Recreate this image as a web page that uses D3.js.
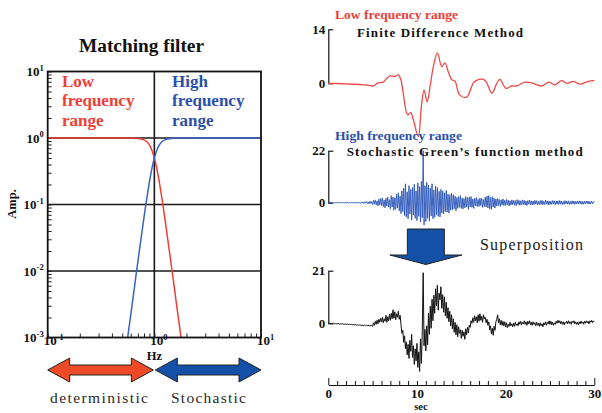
<!DOCTYPE html>
<html><head><meta charset="utf-8">
<script src="https://cdn.jsdelivr.net/npm/d3@7"></script>
<style>
html,body{margin:0;padding:0;background:#fff;}
svg{display:block;}
svg text{font-family:'Liberation Serif','Times New Roman',Times,'DejaVu Serif',serif;}
</style></head>
<body><svg id="c" width="602" height="413"></svg>
<script>
// ---------- Left panel data: matching filter ----------
const lowPassFreq = [0.1,0.3,0.6,0.7,0.8,0.85,0.9,0.95,1.0,1.05,1.1,1.15,1.2,1.3,1.4,1.5,1.6,1.7,1.78];
const lowPassAmp  = [1,1,0.998,0.986,0.936,0.876,0.78,0.649,0.5,0.358,0.242,0.157,0.101,0.041,0.0173,0.0077,0.0035,0.0017,0.001];
const highPassFreq = [0.562,0.588,0.625,0.667,0.714,0.769,0.833,0.87,0.909,0.952,1.0,1.053,1.111,1.176,1.25,1.429,1.667,3,10];
const highPassAmp  = [0.001,0.0017,0.0035,0.0077,0.0173,0.041,0.101,0.157,0.242,0.358,0.5,0.649,0.78,0.876,0.936,0.986,0.998,1,1];
const ampExponents = [1,0,-1,-2,-3];
const freqExponents = [-1,0,1];
const gridAmps = [1,0.1,0.01];
const gridFreqs = [1];

// ---------- Right panel data: waveforms ----------
const lowT = [0,1,2,3,4,4.8,5.1,5.6,6.2,6.6,7.0,7.5,7.9,8.2,8.45,8.95,9.3,9.6,10.15,10.5,10.8,11.15,11.5,11.85,12.3,12.8,13.15,13.5,13.9,14.3,14.8,15.6,16.4,17.0,17.5,17.85,18.45,19.0,19.35,20.05,20.65,21.2,22.2,23.1,24.05,24.9,25.55,26.3,26.9,27.6,28.4,29.3,30];
const lowV = [0,-0.05,-0.15,-0.25,-0.4,-0.6,-0.7,0.1,0.3,1.3,1.9,1.8,2.2,0.8,-2.6,-8.2,-7.6,-9.5,-13.8,-6,-1.7,-4.8,-0.5,4.3,7.9,4.3,5.3,3.2,1.0,0.5,-3.0,-3.6,0.2,1.0,1.0,0.2,-2.6,0.0,1.0,-1.3,-0.7,-0.7,0.3,0.0,-0.7,0.3,-0.4,0.7,0.0,0.5,-0.2,0.5,0.7];
const sampleStep = 0.1; // sec
const highV = [
 0,0.1,-0.1,0.1,0,-0.1,0.1,0,-0.1,0.1,
 0,-0.1,0.1,-0.1,0.1,0,-0.1,0.1,-0.1,0,
 0.1,-0.1,0.2,-0.1,0.1,-0.2,0.1,0,-0.1,0.2,
 -0.2,0.2,-0.1,0.3,-0.2,0.1,-0.3,0.2,-0.2,0.3,
 -0.3,0.4,-0.2,0.5,-0.4,0.3,-0.5,0.6,-0.3,0.5,
 -0.8,1.0,-0.6,1.2,-0.9,0.7,-1.3,1.5,-1.0,1.8,
 -1.2,2.0,-1.6,1.1,-2.2,1.9,-1.4,2.4,-1.8,1.3,
 -2.6,3.0,-1.9,2.4,-3.2,2.1,-2.8,3.6,-2.2,4.2,
 -3.4,2.8,-4.6,5.0,-3.8,6.2,-5.4,8.0,-6.0,4.6,
 -6.8,7.2,-4.8,5.6,-7.4,6.4,-5.2,7.8,-6.6,5.0,
 -7.6,8.4,-5.8,6.8,-8.2,9.0,-6.4,22.0,-9.4,7.2,
 -8.0,8.6,-6.6,7.4,-7.8,6.2,-5.6,8.0,-6.8,5.4,
 -6.2,7.0,-5.0,6.4,-5.8,4.8,-6.0,5.6,-4.4,5.0,
 -4.8,4.2,-3.8,5.2,-4.0,3.6,-4.4,3.4,-3.2,4.0,
 -3.0,3.4,-2.6,2.8,-3.4,2.2,-2.4,2.6,-2.0,3.0,
 -2.4,2.0,-2.6,1.8,-2.2,2.6,-1.8,2.2,-2.8,2.4,
 -1.8,2.6,-2.0,1.6,-2.4,1.8,-1.4,2.2,-1.6,1.4,
 -1.6,2.0,-1.2,1.8,-2.0,1.4,-1.6,2.4,-1.8,2.8,
 -2.2,3.0,-2.6,2.2,-2.8,2.6,-1.8,2.0,-2.2,1.6,
 -1.4,1.8,-1.2,1.4,-1.6,1.2,-1.0,1.6,-1.2,1.0,
 -1.2,1.4,-0.9,1.1,-1.3,0.8,-1.0,1.2,-0.8,1.0,
 -1.1,0.9,-1.2,1.3,-0.7,1.0,-1.1,0.8,-0.9,1.2,
 -0.8,1.0,-1.0,0.7,-1.2,0.9,-0.6,1.1,-0.9,0.8,
 -1.0,0.7,-0.8,1.0,-0.6,0.9,-1.0,0.6,-0.8,0.9,
 -0.7,1.0,-0.9,0.6,-0.8,1.1,-0.6,0.8,-0.9,0.7,
 -0.8,0.6,-0.7,0.9,-0.5,0.8,-0.9,0.7,-0.6,0.8,
 -0.7,0.9,-0.6,0.7,-0.8,0.5,-0.7,0.9,-0.5,0.7,
 -0.6,0.8,-0.7,0.5,-0.6,0.8,-0.5,0.7,-0.7,0.6,
 -0.5,0.7,-0.6,0.8,-0.4,0.6,-0.7,0.5,-0.6,0.7,
 -0.5,0.6,-0.4,0.7,-0.6,0.5,-0.4,0.6,-0.5,0.4,
 0.2];
const superV = [
 0,0,-0.1,0,-0.1,-0.1,0,-0.2,-0.1,-0.2,
 -0.2,-0.1,-0.2,-0.3,-0.2,-0.3,-0.2,-0.3,-0.4,-0.3,
 -0.4,-0.3,-0.4,-0.5,-0.4,-0.5,-0.4,-0.6,-0.5,-0.6,
 -0.6,-0.5,-0.7,-0.6,-0.8,-0.6,-0.7,-0.9,-0.7,-0.8,
 -0.9,-0.7,-1.0,-0.8,-1.0,-0.7,-1.1,-0.8,-1.0,-0.9,
 -1.2,0.2,-0.8,0.8,-0.4,1.2,-0.2,1.6,0.4,2.0,
 0.6,2.4,0.2,1.8,0.8,3.2,0.4,2.6,1.0,3.6,
 1.2,4.0,1.8,5.4,2.0,4.6,1.4,3.8,2.4,4.8,
 1.6,3.2,-0.6,-4.0,-2.8,-7.6,-5.0,-10.2,-7.4,-12.6,
 -8.4,-14.0,-6.8,-11.2,-4.4,-13.6,-9.0,-16.4,-10.2,-15.0,
 -8.0,-17.6,-11.4,-19.2,-6.2,-16.0,-3.0,20.2,-9.0,-2.4,
 -11.0,-1.0,-8.6,4.0,-4.4,6.8,-2.0,9.6,1.0,11.2,
 4.0,13.8,7.0,15.2,5.2,12.0,9.4,14.6,6.0,11.4,
 4.4,10.6,3.0,8.4,2.0,6.2,0.6,4.8,-1.0,3.4,
 -2.2,1.8,-3.6,0.4,-4.6,-0.6,-5.4,-1.4,-4.0,-2.6,
 -6.0,-2.8,-5.2,-3.4,-6.4,-2.2,-4.6,-1.6,-3.8,-0.8,
 -1.6,1.0,0.0,2.2,0.4,3.0,1.0,2.6,0.2,3.4,
 0.8,3.8,1.2,2.8,0.4,3.4,1.8,2.4,0.2,1.6,
 -0.8,0.6,-2.6,-1.0,-4.2,-2.0,-4.8,-1.2,-2.8,0.6,
 1.6,3.4,0.2,1.8,-0.6,1.2,-0.8,0.8,-1.0,0.6,
 -1.4,0.2,-1.8,-0.4,-1.2,0.4,-1.0,-0.2,-1.4,0.0,
 -1.2,0.4,-0.8,-0.2,-1.0,0.6,-0.4,0.8,-0.6,0.4,
 -0.2,1.0,-0.4,0.6,-0.8,0.8,-0.2,1.0,-0.6,0.4,
 -0.8,0.6,-0.4,0.2,-1.0,0.4,-0.8,0.0,-1.2,0.2,
 -1.0,-0.2,-1.4,0.2,-0.6,0.6,-0.8,0.4,-0.2,1.0,
 -0.4,0.8,-0.6,0.4,-0.8,0.2,-0.4,0.8,0.0,1.2,
 0.2,1.0,-0.2,0.8,-0.4,0.6,-0.6,0.4,0.0,0.8,
 -0.2,1.0,0.0,0.6,-0.4,0.8,0.2,1.0,-0.2,0.6,
 -0.4,0.4,-0.6,0.6,-0.2,0.8,0.0,0.6,-0.4,0.8,
 0.0,1.0,0.2,0.8,-0.2,1.0,0.4,1.2,0.2,0.9,
 0.8];
const traceTops = [14,22,21];
const timeTicks = d3.range(0,31);

// ---------- drawing ----------
const FONT = "'Liberation Serif','Times New Roman',Times,'DejaVu Serif',serif";
const svg = d3.select("#c");
const RED = "#ee3e36", BLUE = "#2c50aa";
function txt(g){ return g.append("text").attr("font-family",FONT); }

// Left panel
const fx = d3.scaleLog().domain([0.1,10]).range([47.7,261]);
const fy = d3.scaleLog().domain([0.001,10]).range([337.5,71.5]);
const L = svg.append("g");

txt(L).attr("x",79).attr("y",51.7)
 .attr("font-size",18).attr("font-weight","bold").attr("fill","#111")
 .attr("textLength",125).attr("lengthAdjust","spacingAndGlyphs").text("Matching filter");

// grid lines
L.selectAll("line.gh").data(gridAmps).join("line").attr("class","gh")
 .attr("x1",fx(0.1)).attr("x2",fx(10)).attr("y1",d=>fy(d)).attr("y2",d=>fy(d))
 .attr("stroke","#1a1a1a").attr("stroke-width",1.6);
L.selectAll("line.gv").data(gridFreqs).join("line").attr("class","gv")
 .attr("y1",fy(10)).attr("y2",fy(0.001)).attr("x1",d=>fx(d)).attr("x2",d=>fx(d))
 .attr("stroke","#1a1a1a").attr("stroke-width",1.6);

// ticks
const ay = L.append("g").attr("transform",`translate(${fx(0.1)},0)`)
 .call(d3.axisLeft(fy).tickValues(fy.ticks()).tickSize(-4).tickSizeOuter(0).tickFormat(""));
ay.select(".domain").remove();
ay.selectAll("line").attr("stroke","#222").attr("stroke-width",1);
const ax = L.append("g").attr("transform",`translate(0,${fy(0.001)})`)
 .call(d3.axisBottom(fx).tickValues(fx.ticks()).tickSize(-4).tickSizeOuter(0).tickFormat(""));
ax.select(".domain").remove();
ax.selectAll("line").attr("stroke","#222").attr("stroke-width",1);

// curves
const fline = d3.line().x(d=>fx(d[0])).y(d=>fy(d[1])).curve(d3.curveMonotoneX);
L.append("path").datum(lowPassFreq.map((f,i)=>[f,lowPassAmp[i]]))
 .attr("d",fline).attr("fill","none").attr("stroke",RED).attr("stroke-width",1.5);
L.append("path").datum(highPassFreq.map((f,i)=>[f,highPassAmp[i]]))
 .attr("d",fline).attr("fill","none").attr("stroke","#3a62c0").attr("stroke-width",1.5);

// frame
L.append("rect").attr("x",fx(0.1)).attr("y",fy(10))
 .attr("width",fx(10)-fx(0.1)).attr("height",fy(0.001)-fy(10))
 .attr("fill","none").attr("stroke","#111").attr("stroke-width",1.8);

// tick labels with superscripts
function sup(sel, e){
  sel.append("tspan").attr("font-size",13).text("10");
  sel.append("tspan").attr("font-size",8.5).attr("dy",-5.5).text(e);
}
L.selectAll("text.yl").data(ampExponents).join("text").attr("class","yl").attr("font-family",FONT)
 .attr("x",fx(0.1)-4).attr("y",d=>fy(Math.pow(10,d))+4.5)
 .attr("text-anchor","end").attr("font-size",13).attr("font-weight","bold").attr("fill","#111")
 .each(function(d){ sup(d3.select(this), d); });
L.selectAll("text.xl").data(freqExponents).join("text").attr("class","xl").attr("font-family",FONT)
 .attr("x",d=>fx(Math.pow(10,d))-4).attr("y",fy(0.001)+7.5)
 .attr("font-size",13).attr("font-weight","bold").attr("fill","#111")
 .each(function(d){ sup(d3.select(this), d); });

txt(L).attr("transform","translate(16,204) rotate(-90)").attr("text-anchor","middle")
 .attr("font-size",12.5).attr("font-weight","bold").attr("fill","#111").text("Amp.");
txt(L).attr("x",fx(1)).attr("y",359.5).attr("text-anchor","middle")
 .attr("font-size",12.5).attr("font-weight","bold").attr("fill","#111").text("Hz");

// region labels
[["Low",86.7],["frequency",106],["range",125.5]].forEach(([t,y])=>{
  txt(L).attr("x",62).attr("y",y).attr("font-size",17).attr("font-weight","bold")
   .attr("fill",RED).text(t);
});
[["High",86.7],["frequency",106],["range",125.5]].forEach(([t,y])=>{
  txt(L).attr("x",172).attr("y",y).attr("font-size",17).attr("font-weight","bold")
   .attr("fill",BLUE).text(t);
});

// double arrows
function dblArrow(x0,x1,yc,fill){
  const hs=5, hh=12, hl=22;
  const p = d3.path();
  p.moveTo(x0,yc); p.lineTo(x0+hl,yc-hh); p.lineTo(x0+hl,yc-hs); p.lineTo(x1-hl,yc-hs);
  p.lineTo(x1-hl,yc-hh); p.lineTo(x1,yc); p.lineTo(x1-hl,yc+hh); p.lineTo(x1-hl,yc+hs);
  p.lineTo(x0+hl,yc+hs); p.lineTo(x0+hl,yc+hh); p.closePath();
  L.append("path").attr("d",p.toString()).attr("fill",fill).attr("stroke","#222").attr("stroke-width",1);
}
dblArrow(fx(0.1),fx(1)-1,370,"#ee4a28");
dblArrow(fx(1)+1,fx(10),370,"#1550a8");
txt(L).attr("x",50).attr("y",402.7).attr("font-size",15.5)
 .attr("textLength",98).attr("lengthAdjust","spacing").attr("fill","#2a2a2a").text("deterministic");
txt(L).attr("x",171).attr("y",402.7).attr("font-size",15.5)
 .attr("textLength",75).attr("lengthAdjust","spacing").attr("fill","#2a2a2a").text("Stochastic");

// Right panel
const tx = d3.scaleLinear().domain([0,30]).range([328.3,594.3]);
const yRed = d3.scaleLinear().domain([0,traceTops[0]]).range([83.3,29.3]);
const yBlue = d3.scaleLinear().domain([0,traceTops[1]]).range([202.7,150.7]);
const yBlk = d3.scaleLinear().domain([0,traceTops[2]]).range([323.3,270.7]);
const R = svg.append("g");

[[yRed,traceTops[0]],[yBlue,traceTops[1]],[yBlk,traceTops[2]]].forEach(([ys,top])=>{
  const g = R.append("g").attr("transform",`translate(${tx(0)},0)`)
   .call(d3.axisLeft(ys).tickValues([0,top]).tickSize(-5).tickSizeOuter(0).tickPadding(3));
  g.select(".domain").attr("stroke","#111").attr("stroke-width",1.2);
  g.selectAll(".tick line").attr("stroke","#111").attr("stroke-width",1.2);
  g.attr("font-family",FONT);
  g.selectAll("text").attr("font-family",FONT).attr("font-size",13)
   .attr("font-weight","bold").attr("fill","#111");
});

// traces
R.append("path").datum(lowT.map((t,i)=>[t,lowV[i]]))
 .attr("d",d3.line().x(d=>tx(d[0])).y(d=>yRed(d[1])).curve(d3.curveCatmullRom))
 .attr("fill","none").attr("stroke","#f04848").attr("stroke-width",1.3);
R.append("path").datum(highV)
 .attr("d",d3.line().x((d,i)=>tx(i*sampleStep)).y(d=>yBlue(d)))
 .attr("fill","none").attr("stroke","#2a55b8").attr("stroke-width",0.9);
R.append("path").datum(superV)
 .attr("d",d3.line().x((d,i)=>tx(i*sampleStep)).y(d=>yBlk(d)))
 .attr("fill","none").attr("stroke","#111").attr("stroke-width",1);

// time axis
const tg = R.append("g").attr("transform","translate(0,385)")
 .call(d3.axisBottom(tx).tickValues(timeTicks).tickSize(-4).tickSizeOuter(0).tickPadding(4)
   .tickFormat(d=> d%10===0 ? d : ""));
tg.attr("font-family",FONT);
tg.select(".domain").attr("stroke","#111").attr("stroke-width",1.2);
tg.selectAll(".tick line").attr("stroke","#111").attr("stroke-width",1)
 .attr("y2",d=> (d===0||d===30) ? -7 : -4);
tg.selectAll("text").attr("font-family",FONT).attr("font-size",13)
 .attr("font-weight","bold").attr("fill","#111");
txt(R).attr("x",421).attr("y",410).attr("text-anchor","middle").attr("font-size",10.5)
 .attr("font-weight","bold").attr("fill","#111").text("sec");

// titles
txt(R).attr("x",335).attr("y",19).attr("font-size",12).attr("font-weight","bold")
 .attr("fill",RED).attr("textLength",123).attr("lengthAdjust","spacingAndGlyphs").text("Low frequency range");
txt(R).attr("x",357).attr("y",36.7).attr("font-size",13).attr("font-weight","bold")
 .attr("fill","#111").attr("textLength",166).attr("lengthAdjust","spacing").text("Finite Difference Method");
txt(R).attr("x",335).attr("y",140).attr("font-size",12).attr("font-weight","bold")
 .attr("fill",BLUE).attr("textLength",127).attr("lengthAdjust","spacingAndGlyphs").text("High frequency range");
txt(R).attr("x",346.7).attr("y",156).attr("font-size",13).attr("font-weight","bold")
 .attr("fill","#111").attr("textLength",236).attr("lengthAdjust","spacing").text("Stochastic Green\u2019s function method");
txt(R).attr("x",480).attr("y",250).attr("font-size",16)
 .attr("fill","#222").attr("textLength",103).attr("lengthAdjust","spacing").text("Superposition");

// down arrow
const cx = tx(11);
const dp = d3.path();
dp.moveTo(cx-18.5,229); dp.lineTo(cx+18.5,229); dp.lineTo(cx+18.5,255); dp.lineTo(cx+36,255);
dp.lineTo(cx,264.5); dp.lineTo(cx-36,255); dp.lineTo(cx-18.5,255); dp.closePath();
R.append("path").attr("d",dp.toString()).attr("fill","#1550a8").attr("stroke","#222").attr("stroke-width",1);
</script></body></html>
